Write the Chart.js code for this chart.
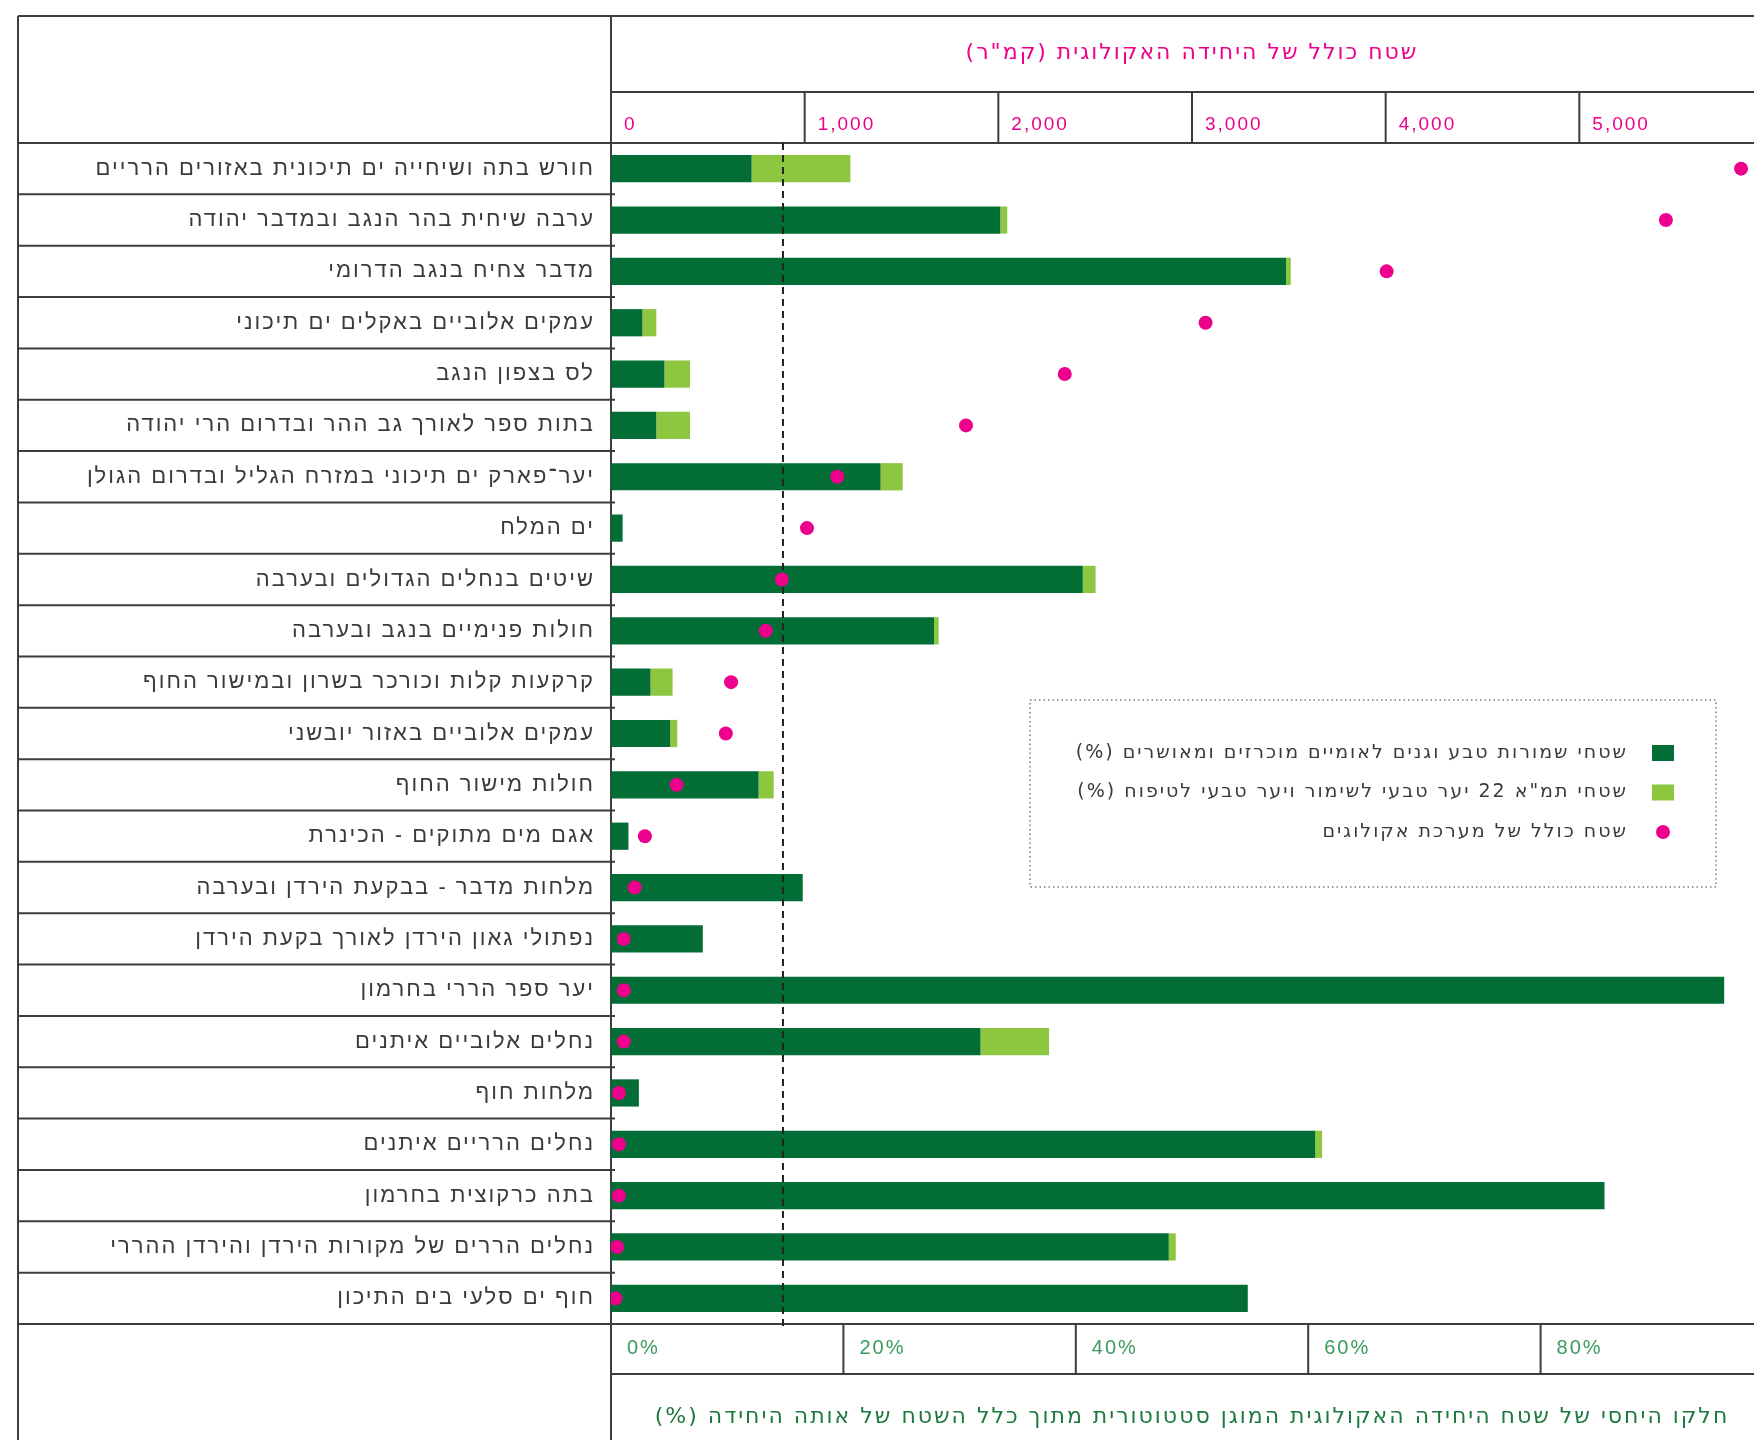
<!DOCTYPE html>
<html lang="he">
<head>
<meta charset="utf-8">
<title>שטח מוגן לפי יחידה אקולוגית</title>
<script src="https://cdn.jsdelivr.net/npm/chart.js@4.4.1/dist/chart.umd.min.js"></script>
<style>
  html, body { margin: 0; padding: 0; overflow: hidden; background: #fff; }
  #wrap { width: 1790px; height: 1440px; }
  canvas { direction: rtl; }
</style>
</head>
<body>
<div id="wrap"><canvas id="chart" width="1790" height="1440" dir="rtl"></canvas></div>
<script>
// יחידות אקולוגיות, מלמעלה למטה
const categories = [
  "חורש בתה ושיחייה ים תיכונית באזורים הרריים",
  "ערבה שיחית בהר הנגב ובמדבר יהודה",
  "מדבר צחיח בנגב הדרומי",
  "עמקים אלוביים באקלים ים תיכוני",
  "לס בצפון הנגב",
  "בתות ספר לאורך גב ההר ובדרום הרי יהודה",
  "יער־פארק ים תיכוני במזרח הגליל ובדרום הגולן",
  "ים המלח",
  "שיטים בנחלים הגדולים ובערבה",
  "חולות פנימיים בנגב ובערבה",
  "קרקעות קלות וכורכר בשרון ובמישור החוף",
  "עמקים אלוביים באזור יובשני",
  "חולות מישור החוף",
  "אגם מים מתוקים - הכינרת",
  "מלחות מדבר - בבקעת הירדן ובערבה",
  "נפתולי גאון הירדן לאורך בקעת הירדן",
  "יער ספר הררי בחרמון",
  "נחלים אלוביים איתנים",
  "מלחות חוף",
  "נחלים הרריים איתנים",
  "בתה כרקוצית בחרמון",
  "נחלים הררים של מקורות הירדן והירדן ההררי",
  "חוף ים סלעי בים התיכון"
];

// % שמורות טבע וגנים לאומיים
const reservePct = [12.1, 33.5, 58.1, 2.7, 4.6, 3.9, 23.2, 1.0, 40.6, 27.8, 3.4, 5.1,
  12.7, 1.5, 16.5, 7.9, 95.8, 31.8, 2.4, 60.6, 85.5, 48.0, 54.8];
// % תמ"א 22
const forestPct = [8.5, 0.6, 0.4, 1.2, 2.2, 2.9, 1.9, 0, 1.1, 0.4, 1.9, 0.6,
  1.3, 0, 0, 0, 0, 5.9, 0, 0.6, 0, 0.6, 0];
// שטח כולל (קמ"ר)
const totalArea = [5835, 5447, 4005, 3070, 2343, 1833, 1168, 1012, 882, 799, 620, 593,
  339, 175, 122, 66, 66, 66, 41, 41, 41, 32, 23];

const areaTicks = [0, 1000, 2000, 3000, 4000, 5000];
const pctTicks = [0, 20, 40, 60, 80];
const averagePct = 14.8;

const legendLabels = [
  "שטחי שמורות טבע וגנים לאומיים מוכרזים ומאושרים (%)",
  "שטחי תמ\"א 22 יער טבעי לשימור ויער טבעי לטיפוח (%)",
  "שטח כולל של מערכת אקולוגים"
];
const areaTitle = "שטח כולל של היחידה האקולוגית (קמ\"ר)";
const pctTitle = "חלקו היחסי של שטח היחידה האקולוגית המוגן סטטוטורית מתוך כלל השטח של אותה היחידה (%)";

const darkGreen = "#026e35";
const lightGreen = "#8dc63f";
const pink = "#ec008c";
const lineGray = "#3d3d3d";

// table-like frame round the chart
const frame = {
  id: "frame",
  beforeDraw(chart) {
    // the original lettering is set wide
    chart.ctx.letterSpacing = "2px";
  },
  beforeDatasetsDraw(chart) {
    const { ctx, chartArea: a, scales } = chart;
    const left = scales.y.left;
    const top = scales.x2.top;
    const right = chart.width;
    const bottom = chart.height;
    const headRow = top + 76;
    const footRow = a.bottom + 50;
    ctx.save();
    ctx.strokeStyle = lineGray;
    ctx.lineWidth = 2;
    const line = (x1, y1, x2, y2) => {
      ctx.beginPath();
      ctx.moveTo(x1, y1);
      ctx.lineTo(x2, y2);
      ctx.stroke();
    };
    line(left, top, right, top);
    line(left, top, left, bottom);
    line(a.left, top, a.left, bottom);
    line(a.left, headRow, right, headRow);
    line(left, a.top, right, a.top);
    line(left, a.bottom, right, a.bottom);
    line(a.left, footRow, right, footRow);
    const band = scales.y.getPixelForValue(1) - scales.y.getPixelForValue(0);
    for (let i = 1; i < categories.length; i++) {
      const y = scales.y.getPixelForValue(i) - band / 2;
      line(left, y, a.left + 4, y);
    }
    scales.x2.ticks.forEach(t => {
      if (t.value > 0) {
        const x = scales.x2.getPixelForValue(t.value);
        line(x, headRow, x, a.top);
      }
    });
    scales.x.ticks.forEach(t => {
      if (t.value > 0) {
        const x = scales.x.getPixelForValue(t.value);
        line(x, a.bottom, x, footRow);
      }
    });
    ctx.restore();
  },
  beforeDatasetDraw(chart, args) {
    if (args.meta.type !== "line") return;
    const { ctx, chartArea: a, scales } = chart;
    const x = scales.x.getPixelForValue(averagePct);
    ctx.save();
    ctx.strokeStyle = "#222";
    ctx.lineWidth = 2;
    ctx.setLineDash([7, 5]);
    ctx.beginPath();
    ctx.moveTo(x, a.top);
    ctx.lineTo(x, a.bottom + 6);
    ctx.stroke();
    ctx.restore();
  },
  afterDraw(chart) {
    const { ctx } = chart;
    const box = { l: 1030, t: 700, r: 1716, b: 887 };
    ctx.save();
    ctx.strokeStyle = "#9a9a9a";
    ctx.lineWidth = 2;
    ctx.setLineDash([1.5, 3]);
    ctx.strokeRect(box.l, box.t, box.r - box.l, box.b - box.t);
    ctx.setLineDash([]);
    ctx.font = "19px 'DejaVu Sans'";
    ctx.letterSpacing = "2px";
    ctx.textAlign = "right";
    ctx.textBaseline = "middle";
    chart.data.datasets.forEach((ds, i) => {
      const y = 753 + i * 39.5;
      if (ds.type === "line") {
        ctx.fillStyle = ds.pointBackgroundColor;
        ctx.beginPath();
        ctx.arc(1663, y, 7, 0, Math.PI * 2);
        ctx.fill();
      } else {
        ctx.fillStyle = ds.backgroundColor;
        ctx.fillRect(1652, y - 8, 22, 16);
      }
      ctx.fillStyle = "#3a3a3a";
      ctx.fillText(ds.label, 1628, y);
    });
    ctx.restore();
  }
};

const ctx = document.getElementById("chart").getContext("2d");
new Chart(ctx, {
  type: "bar",
  data: {
    labels: categories,
    datasets: [
      {
        label: legendLabels[0],
        data: reservePct,
        backgroundColor: darkGreen,
        xAxisID: "x",
        order: 1,
        barPercentage: 0.53,
        categoryPercentage: 1
      },
      {
        label: legendLabels[1],
        data: forestPct,
        backgroundColor: lightGreen,
        xAxisID: "x",
        order: 2,
        barPercentage: 0.53,
        categoryPercentage: 1
      },
      {
        type: "line",
        label: legendLabels[2],
        data: totalArea,
        xAxisID: "x2",
        showLine: false,
        pointRadius: 7,
        pointBorderWidth: 0,
        pointBackgroundColor: pink,
        borderColor: pink,
        order: 0
      }
    ]
  },
  options: {
    indexAxis: "y",
    responsive: false,
    animation: false,
    layout: { padding: { left: 18, top: 16, right: 17, bottom: 0 } },
    plugins: { legend: { display: false }, tooltip: { enabled: false } },
    scales: {
      y: {
        stacked: true,
        offset: true,
        grid: { display: false, drawTicks: false },
        border: { display: false },
        ticks: {
          autoSkip: false,
          padding: 16,
          color: "#3a3a3a",
          font: { family: "'Liberation Sans'", size: 22 }
        },
        afterFit: s => { s.width = 593; }
      },
      x: {
        position: "bottom",
        stacked: true,
        min: 0,
        max: 100,
        grid: { display: false, drawTicks: false },
        border: { display: false },
        afterBuildTicks: s => { s.ticks = pctTicks.map(v => ({ value: v })); },
        ticks: {
          align: "start",
          labelOffset: 16,
          padding: 12,
          maxRotation: 0,
          autoSkip: false,
          color: "#3b9a5e",
          font: { family: "'Liberation Sans'", size: 20 },
          callback: v => v + "%"
        },
        title: {
          display: true,
          text: pctTitle,
          color: "#1d7a3e",
          padding: { top: 0, bottom: 10 },
          font: { family: "'DejaVu Sans'", size: 22 }
        },
        afterFit: s => { s.height = 116; }
      },
      x2: {
        position: "top",
        min: 0,
        max: 6000,
        grid: { display: false, drawTicks: false },
        border: { display: false },
        afterBuildTicks: s => { s.ticks = areaTicks.map(v => ({ value: v })); },
        ticks: {
          align: "start",
          labelOffset: 13,
          padding: 7,
          maxRotation: 0,
          autoSkip: false,
          color: pink,
          font: { family: "'Liberation Sans'", size: 19 },
          callback: v => v.toLocaleString("en-US")
        },
        title: {
          display: true,
          text: areaTitle,
          color: pink,
          padding: { top: 24, bottom: 0 },
          font: { family: "'DejaVu Sans'", size: 22 }
        },
        afterFit: s => { s.height = 127; }
      }
    }
  },
  plugins: [frame]
});
</script>
</body>
</html>
